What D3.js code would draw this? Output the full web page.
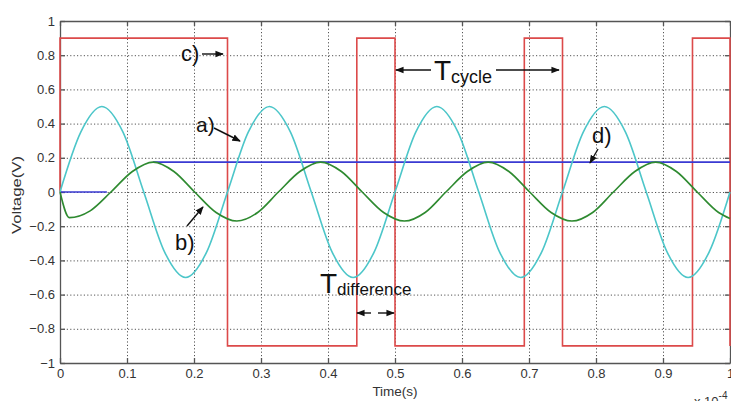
<!DOCTYPE html>
<html>
<head>
<meta charset="utf-8">
<script src="https://cdn.jsdelivr.net/npm/d3@7"></script>
<style>
  body { margin: 0; background: #fff; }
  svg { display: block; font-family: "Liberation Sans", Arial, sans-serif; }
  .tick text { fill: #333; font-size: 13px; }
  .grid line { stroke: #555; stroke-dasharray: 1.2 2.2; stroke-width: 1; }
  .grid path { display: none; }
  .frame path, .frame line { stroke: #555; stroke-width: 1.3; }
  .ann { fill: #111; }
</style>
</head>
<body>
<div id="chart"></div>
<script>
// Voltage traces, time axis in units of 1e-4 s
const xTicks = [0, 0.1, 0.2, 0.3, 0.4, 0.5, 0.6, 0.7, 0.8, 0.9, 1];
const yTicks = [-1, -0.8, -0.6, -0.4, -0.2, 0, 0.2, 0.4, 0.6, 0.8, 1];

// a) cyan sine, read at eighth-period points
const cyanT = [0, 0.031, 0.0625, 0.094, 0.125, 0.156, 0.1875, 0.219, 0.25, 0.281, 0.3125, 0.344, 0.375, 0.406, 0.4375, 0.469,
               0.5, 0.531, 0.5625, 0.594, 0.625, 0.656, 0.6875, 0.719, 0.75, 0.781, 0.8125, 0.844, 0.875, 0.906, 0.9375, 0.969, 1];
const cyanV = [0, 0.35, 0.5, 0.35, 0, -0.35, -0.5, -0.35, 0, 0.35, 0.5, 0.35, 0, -0.35, -0.5, -0.35,
               0, 0.35, 0.5, 0.35, 0, -0.35, -0.5, -0.35, 0, 0.35, 0.5, 0.35, 0, -0.35, -0.5, -0.35, 0];

// b) green filtered signal
const greenT = [0, 0.014, 0.045, 0.076, 0.108, 0.139, 0.170, 0.201, 0.233, 0.264, 0.295, 0.326, 0.358, 0.389, 0.420, 0.451,
                0.483, 0.514, 0.545, 0.576, 0.608, 0.639, 0.670, 0.701, 0.733, 0.764, 0.795, 0.826, 0.858, 0.889, 0.920, 0.951, 0.983, 1];
const greenV = [0, -0.15, -0.11, 0, 0.12, 0.175, 0.12, 0, -0.12, -0.17, -0.12, 0, 0.12, 0.175, 0.12, 0,
                -0.12, -0.17, -0.12, 0, 0.12, 0.175, 0.12, 0, -0.12, -0.17, -0.12, 0, 0.12, 0.175, 0.12, 0, -0.12, -0.155];

// c) red square wave
const redT = [0, 0, 0.25, 0.25, 0.443, 0.443, 0.5, 0.5, 0.693, 0.693, 0.75, 0.75, 0.944, 0.944, 1, 1];
const redV = [0, 0.9, 0.9, -0.9, -0.9, 0.9, 0.9, -0.9, -0.9, 0.9, 0.9, -0.9, -0.9, 0.9, 0.9, -0.9];

// d) blue peak level (gap where hidden)
const blueT = [0, 0.07, 0.1, 0.139, 1];
const blueV = [0, 0, null, 0.175, 0.175];

const W = 731, H = 401;
const m = { top: 21, right: 1, bottom: 38, left: 60 };

const svg = d3.select("#chart").append("svg").attr("width", W).attr("height", H);

const x = d3.scaleLinear().domain([0, 1]).range([m.left, W - m.right]);
const y = d3.scaleLinear().domain([-1, 1]).range([H - m.bottom, m.top]);

// grid
svg.append("g").attr("class", "grid")
    .attr("transform", `translate(0,${y(-1)})`)
    .call(d3.axisBottom(x).tickValues(xTicks.slice(1, -1)).tickSize(-(y(-1) - y(1))).tickFormat(""));
svg.append("g").attr("class", "grid")
    .attr("transform", `translate(${x(0)},0)`)
    .call(d3.axisLeft(y).tickValues(yTicks.slice(1, -1)).tickSize(-(x(1) - x(0))).tickFormat(""));

// frame + ticks
svg.append("g").attr("class", "frame")
    .attr("transform", `translate(0,${y(-1)})`)
    .call(d3.axisBottom(x).tickValues(xTicks).tickSizeInner(-5).tickSizeOuter(0).tickPadding(6).tickFormat(d3.format("")));
svg.append("g").attr("class", "frame")
    .attr("transform", `translate(0,${y(1)})`)
    .call(d3.axisTop(x).tickValues(xTicks).tickSizeInner(-5).tickSizeOuter(0).tickFormat(""));
svg.append("g").attr("class", "frame")
    .attr("transform", `translate(${x(0)},0)`)
    .call(d3.axisLeft(y).tickValues(yTicks).tickSizeInner(-5).tickSizeOuter(0).tickPadding(5).tickFormat(d3.format("")));
svg.append("g").attr("class", "frame")
    .attr("transform", `translate(${x(1)},0)`)
    .call(d3.axisRight(y).tickValues(yTicks).tickSizeInner(-5).tickSizeOuter(0).tickFormat(""));
svg.selectAll(".frame .tick line").attr("stroke-width", 1);

const series = [
    { t: redT, v: redV, color: "#dc4a4a", curve: d3.curveLinear },
    { t: blueT, v: blueV, color: "#3a3ad2", curve: d3.curveLinear },
    { t: cyanT, v: cyanV, color: "#4cc6c9", curve: d3.curveMonotoneX },
    { t: greenT, v: greenV, color: "#2e8a30", curve: d3.curveMonotoneX }
];

series.forEach(s => {
    const pts = s.t.map((t, i) => [t, s.v[i]]);
    const line = d3.line()
        .defined(d => d[1] !== null)
        .x(d => x(d[0]))
        .y(d => y(d[1]))
        .curve(s.curve);
    svg.append("path")
        .datum(pts)
        .attr("fill", "none")
        .attr("stroke", s.color)
        .attr("stroke-width", 1.6)
        .attr("d", line);
});

// axis titles
svg.append("text").attr("x", x(0.5)).attr("y", 396).attr("text-anchor", "middle")
    .attr("fill", "#333").style("font-size", "13.5px").text("Time(s)");
svg.append("text").attr("transform", "translate(21,195) rotate(-90)").attr("text-anchor", "middle")
    .attr("fill", "#333").style("font-size", "12.5px").attr("textLength", 78).attr("lengthAdjust", "spacingAndGlyphs")
    .text("Voltage(V)");
const exp = svg.append("text").attr("x", 694).attr("y", 406).attr("fill", "#333").style("font-size", "13px");
exp.append("tspan").text("x 10");
exp.append("tspan").attr("dy", -7).style("font-size", "10px").text("-4");

// annotations
svg.append("defs").append("marker")
    .attr("id", "ah").attr("viewBox", "0 0 10 10").attr("refX", 9).attr("refY", 5)
    .attr("markerWidth", 6).attr("markerHeight", 6).attr("orient", "auto")
    .append("path").attr("d", "M0,1L10,5L0,9Z").attr("fill", "#111");

const arrow = (x1, y1, x2, y2) => svg.append("line")
    .attr("x1", x1).attr("y1", y1).attr("x2", x2).attr("y2", y2)
    .attr("stroke", "#111").attr("stroke-width", 1.4).attr("marker-end", "url(#ah)");

const label = (tx, ty, txt, size) => svg.append("text").attr("class", "ann")
    .attr("x", tx).attr("y", ty).style("font-size", size + "px").text(txt);

label(181, 61, "c)", 22); arrow(202, 54, 223, 54);
label(196, 132, "a)", 21); arrow(214, 128, 240, 141);
label(175, 250, "b)", 22); arrow(187, 226, 203, 207);
label(592, 143, "d)", 22); arrow(598, 149, 590, 163);

const tc = svg.append("text").attr("class", "ann").attr("x", 434).attr("y", 80).style("font-size", "28px");
tc.append("tspan").text("T");
tc.append("tspan").attr("dy", 3).style("font-size", "18px").text("cycle");
arrow(431, 70, 396, 70);
arrow(496, 70, 559, 70);

const td = svg.append("text").attr("class", "ann").attr("x", 320).attr("y", 293).style("font-size", "28px");
td.append("tspan").text("T");
td.append("tspan").attr("dy", 2).style("font-size", "17px").text("difference");
arrow(371, 313, 357, 313);
arrow(378, 313, 394, 313);
</script>
</body>
</html>
